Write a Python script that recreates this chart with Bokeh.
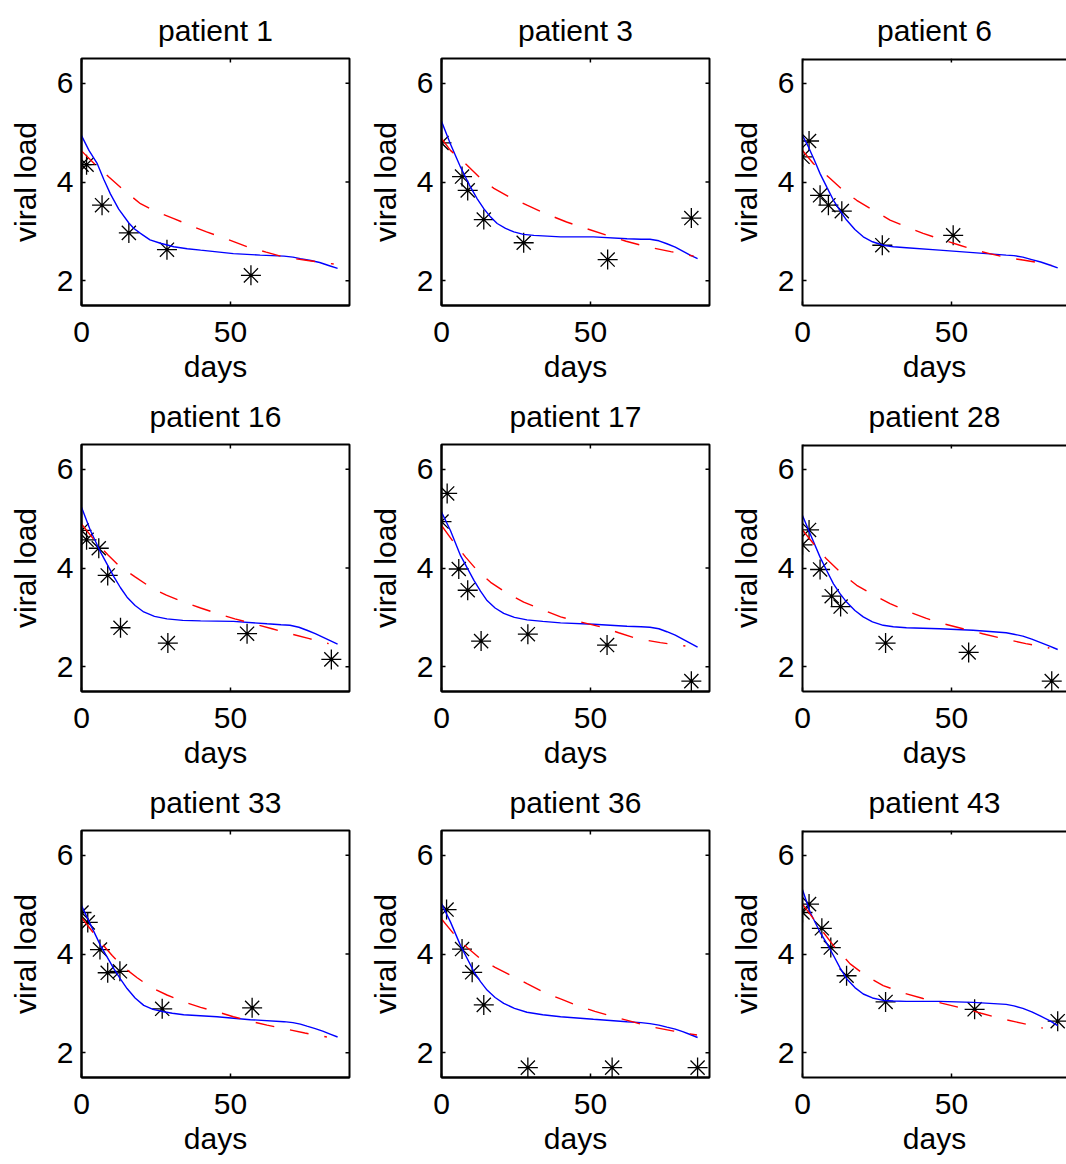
from bokeh.plotting import figure
from bokeh.layouts import column, row
from bokeh.models import FixedTicker, Range1d, Span
from bokeh.embed import file_html
from bokeh.resources import INLINE

# ---------------- data ----------------
titles = ["patient 1", "patient 3", "patient 6",
          "patient 16", "patient 17", "patient 28",
          "patient 33", "patient 36", "patient 43"]
x_ticks = [0, 50]
y_ticks = [2, 4, 6]
x_label = "days"
y_label = "viral load"

# patient 1
obs_days_1 = [0, 1.7, 6.9, 15.9, 28.7, 56.9]
obs_load_1 = [4.35, 4.35, 3.53, 2.97, 2.63, 2.11]
fit_days_1 = [0, 2.5, 5.3, 7.5, 9.7, 12.5, 15.9, 17.6, 19.8, 23, 26.5, 31, 35.5, 40, 51, 60, 68, 71, 73.5, 77, 80, 83, 86]
fit_load_1 = [4.94, 4.64, 4.37, 4.05, 3.76, 3.45, 3.17, 3.06, 2.96, 2.83, 2.76, 2.69, 2.65, 2.62, 2.55, 2.52, 2.50, 2.48, 2.45, 2.41, 2.37, 2.31, 2.25]
alt_days_1 = [0, 4.5, 9.2, 14.5, 19.8, 25, 31, 36.5, 42, 49, 55.6, 62, 68, 76, 84.7]
alt_load_1 = [4.63, 4.36, 4.10, 3.82, 3.56, 3.40, 3.26, 3.12, 2.99, 2.84, 2.69, 2.58, 2.48, 2.41, 2.34]

# patient 3
obs_days_3 = [0, 6.9, 8.8, 14.2, 27.6, 55.8, 83.9]
obs_load_3 = [4.79, 4.11, 3.83, 3.24, 2.77, 2.43, 3.27]
fit_days_3 = [0, 3, 6.4, 9.7, 12, 14.2, 16.5, 18.7, 21.5, 24.3, 27.5, 31, 40, 51, 62.3, 67, 70, 73, 75.7, 78.5, 81, 83.5, 86]
fit_load_3 = [5.23, 4.77, 4.30, 3.90, 3.66, 3.46, 3.29, 3.16, 3.06, 2.99, 2.94, 2.92, 2.89, 2.89, 2.85, 2.84, 2.84, 2.81, 2.75, 2.68, 2.60, 2.52, 2.45]
alt_days_3 = [0, 3, 8.6, 13, 17.6, 23, 28.7, 35, 42, 49, 55.6, 62, 69, 77, 84.7]
alt_load_3 = [4.88, 4.64, 4.34, 4.08, 3.87, 3.69, 3.53, 3.36, 3.19, 3.05, 2.92, 2.80, 2.69, 2.59, 2.50]

# patient 6
obs_days_6 = [0, 2.2, 5.9, 8.7, 13.2, 26.8, 50.6]
obs_load_6 = [4.51, 4.83, 3.73, 3.53, 3.41, 2.72, 2.92]
fit_days_6 = [0, 2, 4, 5.9, 8.2, 10.4, 12.6, 14.8, 17.6, 20.4, 23.5, 27.1, 30.5, 34.9, 46, 57.3, 68.4, 71, 74, 77, 80, 83, 85.7]
fit_load_6 = [4.94, 4.71, 4.44, 4.17, 3.89, 3.63, 3.42, 3.23, 3.04, 2.89, 2.79, 2.72, 2.69, 2.67, 2.62, 2.57, 2.52, 2.51, 2.48, 2.43, 2.38, 2.32, 2.26]
alt_days_6 = [0, 3.7, 9.3, 13.5, 18.2, 24, 29.4, 35, 40.5, 46.5, 52.8, 57.5, 62.8, 68, 74, 79, 83.5]
alt_load_6 = [4.64, 4.37, 4.07, 3.84, 3.63, 3.42, 3.23, 3.09, 2.96, 2.84, 2.72, 2.63, 2.55, 2.48, 2.42, 2.37, 2.32]

# patient 16
obs_days_16 = [0, 1.7, 5.8, 8.8, 13.1, 29, 55.6, 83.9]
obs_load_16 = [4.76, 4.57, 4.40, 3.85, 2.79, 2.48, 2.67, 2.15]
fit_days_16 = [0, 3, 6.4, 10.9, 13.1, 15.3, 18, 20.9, 24.5, 28.7, 34, 40, 51, 62.3, 67, 70, 73, 75.7, 78.5, 81, 83.5, 86]
fit_load_16 = [5.23, 4.76, 4.32, 3.82, 3.60, 3.41, 3.24, 3.11, 3.02, 2.97, 2.94, 2.93, 2.92, 2.87, 2.85, 2.84, 2.80, 2.74, 2.67, 2.60, 2.53, 2.46]
alt_days_16 = [0, 5.3, 9, 12.5, 18, 23.2, 28.5, 34.3, 40, 45.5, 51.5, 57.8, 64, 70, 76.5, 83]
alt_load_16 = [4.89, 4.49, 4.26, 4.05, 3.82, 3.61, 3.45, 3.31, 3.19, 3.08, 2.97, 2.87, 2.77, 2.67, 2.57, 2.47]

# patient 17
obs_days_17 = [0, 1.9, 5.8, 8.8, 13.3, 29, 55.6, 83.9]
obs_load_17 = [4.94, 5.51, 3.98, 3.55, 2.52, 2.66, 2.44, 1.71]
fit_days_17 = [0, 3, 6.4, 10.9, 13.1, 15.3, 18, 20.9, 24.5, 28.7, 34, 40, 51, 62.3, 67, 70, 73, 75.7, 78.5, 81, 83.5, 86]
fit_load_17 = [5.13, 4.76, 4.25, 3.75, 3.53, 3.34, 3.19, 3.08, 3.00, 2.95, 2.92, 2.89, 2.86, 2.82, 2.81, 2.80, 2.77, 2.71, 2.64, 2.56, 2.48, 2.40]
alt_days_17 = [0, 4.1, 8.1, 12, 16.5, 22, 27.6, 34, 40, 46.5, 53.4, 59.5, 65.7, 73.5, 81.9]
alt_load_17 = [4.86, 4.52, 4.22, 3.95, 3.71, 3.49, 3.31, 3.15, 3.01, 2.91, 2.81, 2.69, 2.57, 2.49, 2.42]

# patient 28
obs_days_28 = [0, 2.2, 5.9, 9.8, 12.8, 27.9, 55.8, 83.7]
obs_load_28 = [4.47, 4.77, 3.97, 3.43, 3.22, 2.48, 2.29, 1.71]
fit_days_28 = [0, 2.6, 5.9, 8.2, 10.4, 12.6, 14.8, 17.6, 20.4, 23.5, 27.1, 30.5, 34.9, 46, 57.3, 68.4, 71, 74, 77, 80, 83, 85.7]
fit_load_28 = [5.06, 4.69, 4.22, 3.94, 3.68, 3.48, 3.31, 3.14, 3.01, 2.91, 2.84, 2.81, 2.79, 2.77, 2.74, 2.69, 2.66, 2.62, 2.56, 2.49, 2.42, 2.35]
alt_days_28 = [0, 3.7, 8.1, 13, 18.2, 24, 29.4, 35.5, 41.6, 47.5, 53.9, 60.5, 67.3, 75, 82.9]
alt_load_28 = [4.77, 4.49, 4.18, 3.90, 3.65, 3.45, 3.28, 3.12, 2.98, 2.87, 2.77, 2.67, 2.57, 2.47, 2.38]

# patient 33
obs_days_33 = [0, 2.1, 6.2, 8.8, 12.9, 27.1, 57.3]
obs_load_33 = [4.84, 4.64, 4.09, 3.62, 3.65, 2.89, 2.91]
fit_days_33 = [0, 3, 6.4, 10.9, 13.1, 15.3, 18, 20.9, 24, 27.6, 30.5, 34.3, 45.5, 56.7, 68, 71, 73.5, 75.7, 78.5, 81, 83.5, 86]
fit_load_33 = [4.98, 4.60, 4.17, 3.70, 3.49, 3.30, 3.11, 2.96, 2.88, 2.83, 2.80, 2.77, 2.73, 2.67, 2.63, 2.61, 2.58, 2.54, 2.49, 2.44, 2.38, 2.32]
alt_days_33 = [0, 6.4, 10.3, 14.2, 18.7, 23.2, 28.7, 34.3, 40, 45.5, 51, 56.7, 62.3, 68, 75, 82.4]
alt_load_33 = [4.74, 4.24, 3.97, 3.73, 3.52, 3.33, 3.17, 3.03, 2.92, 2.83, 2.73, 2.64, 2.56, 2.49, 2.40, 2.32]

# patient 36
obs_days_36 = [1.7, 6.9, 10.3, 14.2, 29, 57.3, 86]
obs_load_36 = [4.90, 4.10, 3.63, 2.97, 1.70, 1.70, 1.70]
fit_days_36 = [0, 3, 6.4, 10.9, 13.1, 15.3, 18, 20.9, 24.5, 28.7, 34, 40, 51, 62.3, 67, 70, 73, 75.7, 78.5, 81, 83.5, 86]
fit_load_36 = [5.02, 4.65, 4.17, 3.64, 3.44, 3.27, 3.12, 3.00, 2.90, 2.82, 2.77, 2.73, 2.68, 2.63, 2.61, 2.59, 2.56, 2.52, 2.48, 2.43, 2.37, 2.31]
alt_days_36 = [0, 6.4, 10, 13.1, 18, 23.2, 28.7, 34.3, 40, 45.5, 51.5, 57.8, 64, 70, 78, 85.8]
alt_load_36 = [4.71, 4.24, 4.06, 3.90, 3.73, 3.57, 3.40, 3.23, 3.09, 2.96, 2.84, 2.73, 2.63, 2.53, 2.44, 2.36]

# patient 43
obs_days_43 = [0, 2.2, 6.5, 9.5, 14.8, 27.9, 57.8, 85.7]
obs_load_43 = [4.84, 5.01, 4.52, 4.13, 3.56, 3.03, 2.88, 2.64]
fit_days_43 = [0, 2.6, 5.9, 8.2, 10.4, 12.6, 14.8, 17.6, 20.4, 23.5, 27.1, 30.5, 34.9, 46, 57.3, 68.4, 71, 74, 77, 80, 83, 85.7]
fit_load_43 = [5.30, 4.84, 4.44, 4.21, 3.97, 3.72, 3.50, 3.32, 3.19, 3.11, 3.06, 3.05, 3.04, 3.04, 3.02, 2.98, 2.95, 2.90, 2.83, 2.74, 2.65, 2.55]
alt_days_43 = [0, 3.7, 7, 10.4, 16, 21.5, 27.1, 34, 40.5, 47, 53.9, 60, 66.2, 73.5, 80.7]
alt_load_43 = [5.01, 4.71, 4.44, 4.17, 3.80, 3.55, 3.36, 3.21, 3.10, 3.00, 2.90, 2.80, 2.70, 2.60, 2.50]

panels = [
    (obs_days_1, obs_load_1, fit_days_1, fit_load_1, alt_days_1, alt_load_1),
    (obs_days_3, obs_load_3, fit_days_3, fit_load_3, alt_days_3, alt_load_3),
    (obs_days_6, obs_load_6, fit_days_6, fit_load_6, alt_days_6, alt_load_6),
    (obs_days_16, obs_load_16, fit_days_16, fit_load_16, alt_days_16, alt_load_16),
    (obs_days_17, obs_load_17, fit_days_17, fit_load_17, alt_days_17, alt_load_17),
    (obs_days_28, obs_load_28, fit_days_28, fit_load_28, alt_days_28, alt_load_28),
    (obs_days_33, obs_load_33, fit_days_33, fit_load_33, alt_days_33, alt_load_33),
    (obs_days_36, obs_load_36, fit_days_36, fit_load_36, alt_days_36, alt_load_36),
    (obs_days_43, obs_load_43, fit_days_43, fit_load_43, alt_days_43, alt_load_43),
]

FONT = "Liberation Sans"
FS = "30px"
FRAME_W = 268
FRAME_H = 247
X_MAX = 90.0
Y_MIN, Y_MAX = 1.5, 6.5
TICK_PX = 4


def style_axis(ax):
    ax.major_tick_in = TICK_PX
    ax.major_tick_out = 0
    ax.minor_tick_in = 0
    ax.minor_tick_out = 0
    ax.axis_line_width = 2
    ax.axis_line_color = "black"
    ax.major_tick_line_width = 1.5
    ax.major_tick_line_color = "black"
    ax.major_label_text_font = FONT
    ax.major_label_text_font_size = FS
    ax.major_label_text_color = "black"
    ax.axis_label_text_font = FONT
    ax.axis_label_text_font_size = FS
    ax.axis_label_text_font_style = "normal"
    ax.axis_label_text_color = "black"


def make_panel(i):
    r, c = divmod(i, 3)
    od, ov, fd, fv, ad, av = panels[i]
    last_col = (c == 2)
    fw = 264 if last_col else FRAME_W
    xend = X_MAX * fw / FRAME_W
    height = 392 if r == 2 else 386
    p = figure(
        title=titles[i],
        x_range=Range1d(0, xend), y_range=Range1d(Y_MIN, Y_MAX),
        frame_width=fw, frame_height=FRAME_H,
        min_border_left=82 if last_col else 81,
        min_border_right=0 if last_col else 11,
        min_border_top=58,
        min_border_bottom=height - 58 - FRAME_H,
        x_axis_label=x_label, y_axis_label=y_label,
        output_backend="svg", toolbar_location=None,
    )
    p.xgrid.visible = False
    p.ygrid.visible = False
    p.background_fill_color = "white"
    p.border_fill_color = "white"
    if last_col:
        p.outline_line_color = None
        p.add_layout(Span(location=Y_MAX, dimension="width",
                          line_color="black", line_width=4))
    else:
        p.outline_line_color = "black"
        p.outline_line_width = 2
        p.outline_line_alpha = 1.0

    p.title.text_font = FONT
    p.title.text_font_size = FS
    p.title.text_font_style = "normal"
    p.title.text_color = "black"
    p.title.align = "center"
    p.title.standoff = 23
    if last_col:
        p.title.offset = 2

    p.xaxis.ticker = FixedTicker(ticks=x_ticks)
    p.yaxis.ticker = FixedTicker(ticks=y_ticks)
    style_axis(p.xaxis[0])
    style_axis(p.yaxis[0])
    p.xaxis.major_label_standoff = 16
    p.xaxis.axis_label_standoff = 5
    p.yaxis.major_label_standoff = 8
    p.yaxis.axis_label_standoff = 12

    # inward ticks on the top edge (and right edge when visible)
    dy = TICK_PX / FRAME_H * (Y_MAX - Y_MIN)
    p.segment(x0=x_ticks, y0=[Y_MAX] * len(x_ticks), x1=x_ticks,
              y1=[Y_MAX - dy] * len(x_ticks), line_color="black", line_width=1.5)
    if not last_col:
        dx = TICK_PX / fw * xend
        p.segment(x0=[xend] * len(y_ticks), y0=y_ticks, x1=[xend - dx] * len(y_ticks),
                  y1=y_ticks, line_color="black", line_width=1.5)

    p.scatter(od, ov, marker="asterisk", size=20, line_color="black", line_width=1.3)
    p.line(fd, fv, line_color="#0000ff", line_width=1.4)
    p.line(ad, av, line_color="#ff0000", line_width=1.4, line_dash="19 16")
    return p


figs = [make_panel(i) for i in range(9)]
layout = column(row(*figs[0:3]), row(*figs[3:6]), row(*figs[6:9]))

open("out.html", "w").write(file_html(layout, INLINE))
